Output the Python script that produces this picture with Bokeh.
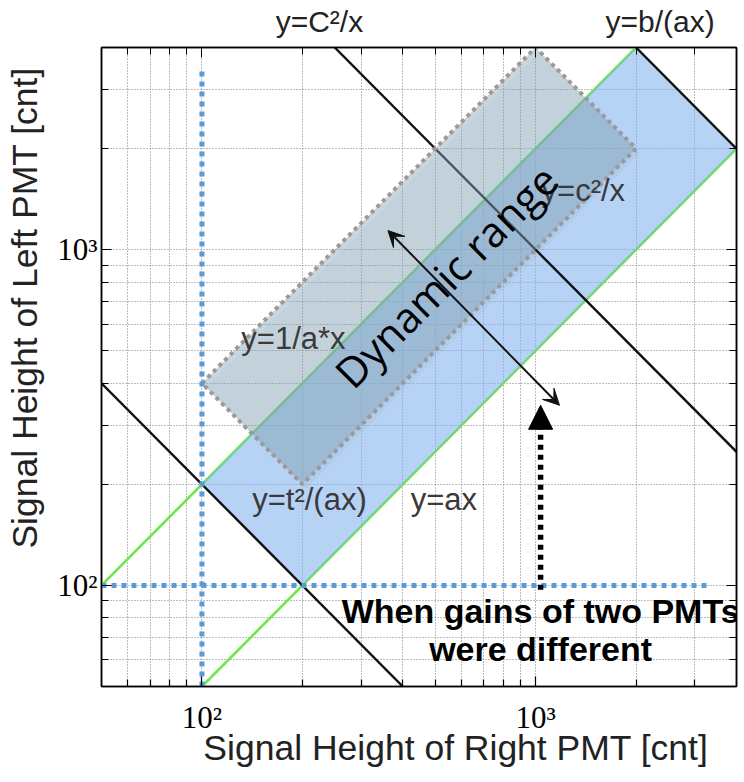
from bokeh.plotting import figure
from bokeh.models import (Range1d, LogAxis, FixedTicker, Label, Arrow,
                          NormalHead, VeeHead)
from bokeh.core.properties import value
from bokeh.embed import file_html
from bokeh.resources import INLINE

# ---- axes ----
x_limits = [50, 4000]
y_limits = [50, 4000]
major_ticks = [100, 1000]
minor_ticks = [60, 70, 80, 90, 200, 300, 400, 500, 600, 700, 800, 900, 2000, 3000]
tick_labels = {100: "10²", 1000: "10³"}
x_title = "Signal Height of Right PMT [cnt]"
y_title = "Signal Height of Left PMT [cnt]"
x_title_at = 577
y_title_at = 671

# ---- gain lines (green) ----
upper_gain_x = [50, 2000]
upper_gain_y = [100, 4000]
lower_gain_x = [100, 4000]
lower_gain_y = [50, 2000]

# ---- hyperbolas (black) ----
t_line_x = [50, 400]
t_line_y = [400, 50]
c_line_x = [250, 4000]
c_line_y = [4000, 250]
b_line_x = [2000, 4000]
b_line_y = [4000, 2000]

# ---- shaded acceptance band ----
band_x = [100, 2000, 4000, 200]
band_y = [200, 4000, 2000, 100]

# ---- dynamic range rectangle ----
dyn_x = [100, 1000, 2000, 200]
dyn_y = [400, 4000, 2000, 200]

# ---- thresholds (blue dotted) ----
thr_v_x = [100, 100]
thr_v_y = [50, 3500]
thr_h_x = [50, 3300]
thr_h_y = [100, 100]

# ---- arrows ----
dyn_arrow_x = [1179, 361]
dyn_arrow_y = [344, 1140]
gain_arrow_x = [1035, 1035]
gain_arrow_y = [97, 344]

# ---- annotations ----
note_x = [188, 210, 531, 1390]
note_y = [542, 180, 180, 1500]
note_text = ["y=1/a*x", "y=t²/(ax)", "y=ax", "y=c²/x"]
top_x = [225, 2362]
top_text = ["y=C²/x", "y=b/(ax)"]
dyn_label = ["Dynamic range", 538, 836]
gain_note = ["When gains of two PMTs", "were different"]
gain_note_x = [1035, 1035]
gain_note_y = [84, 64.7]

SANS = "Liberation Sans"

xt = FixedTicker(ticks=major_ticks, minor_ticks=minor_ticks)
yt = FixedTicker(ticks=major_ticks, minor_ticks=minor_ticks)

p = figure(width=744, height=782, x_axis_type="log", y_axis_type="log",
           x_range=Range1d(*x_limits), y_range=Range1d(*y_limits),
           output_backend="svg", toolbar_location=None,
           min_border_left=101, min_border_right=8,
           min_border_top=47, min_border_bottom=96)
p.background_fill_color = "white"
p.border_fill_color = "white"
p.outline_line_color = "black"
p.outline_line_width = 1.5

for ax, t in ((p.xaxis[0], xt), (p.yaxis[0], yt)):
    ax.ticker = t
    ax.major_label_overrides = tick_labels
    ax.major_label_text_font = "Liberation Serif"
    ax.major_label_text_font_size = "31px"
    ax.major_label_text_color = "black"
    ax.major_tick_in = 10
    ax.major_tick_out = 0
    ax.minor_tick_in = 7
    ax.minor_tick_out = 0
    ax.axis_line_color = "black"
    ax.axis_line_width = 1.5
    ax.major_tick_line_width = 1.2
    ax.minor_tick_line_width = 1.2
p.xaxis.major_label_standoff = 13
p.yaxis.major_label_standoff = 4

for g, t in ((p.xgrid[0], xt), (p.ygrid[0], yt)):
    g.ticker = t
    g.grid_line_color = "#7a7a7a"
    g.grid_line_dash = "1 2"
    g.grid_line_width = 1
    g.minor_grid_line_color = "#7a7a7a"
    g.minor_grid_line_dash = "1 2"
    g.minor_grid_line_width = 1

blank = {100: " ", 1000: " "}
top_axis = LogAxis(ticker=xt, major_label_overrides=blank,
                   major_label_text_font_size="2px", major_label_text_alpha=0,
                   major_label_standoff=0, major_tick_in=10, major_tick_out=0,
                   minor_tick_in=7, minor_tick_out=0, axis_line_color="black",
                   axis_line_width=1.5)
right_axis = LogAxis(ticker=yt, major_label_overrides=blank,
                     major_label_text_font_size="2px", major_label_text_alpha=0,
                     major_label_standoff=0, major_tick_in=10, major_tick_out=0,
                     minor_tick_in=7, minor_tick_out=0, axis_line_color="black",
                     axis_line_width=1.5)
p.add_layout(top_axis, "above")
p.add_layout(right_axis, "right")


def text_axis(ticks, labels, font, size, color, standoff, orientation="horizontal"):
    return LogAxis(ticker=FixedTicker(ticks=ticks, minor_ticks=[]),
                   major_label_overrides=dict(zip(ticks, labels)),
                   major_label_text_font=font,
                   major_label_text_font_size=size,
                   major_label_text_color=color,
                   major_label_standoff=standoff,
                   major_label_orientation=orientation,
                   axis_line_color=None, major_tick_line_color=None,
                   minor_tick_line_color=None)


# curve names above the frame
p.add_layout(text_axis(top_x, top_text, SANS, "30px", "#222222", 4), "above")
# axis titles
p.add_layout(text_axis([x_title_at], [x_title], SANS, "35.5px", "#222222", -16), "below")
p.add_layout(text_axis([y_title_at], [y_title], SANS, "35.5px", "#222222", 3,
                       "vertical"), "left")

# green lines
p.line(upper_gain_x, upper_gain_y, line_color="#6ee650", line_width=2.6)
p.line(lower_gain_x, lower_gain_y, line_color="#6ee650", line_width=2.6)

# blue band
p.patch(band_x, band_y, fill_color="#82b4f0", fill_alpha=0.58, line_color=None)

# black hyperbolas
for xs, ys in ((t_line_x, t_line_y), (c_line_x, c_line_y), (b_line_x, b_line_y)):
    p.line(xs, ys, line_color="#111111", line_width=2.4)

# dynamic range rectangle (shadow + body)
p.patch([v * 1.025 for v in dyn_x], [v * 0.97 for v in dyn_y],
        fill_color="#666666", fill_alpha=0.06, line_color=None)
p.patch(dyn_x, dyn_y, fill_color="#86a3b8", fill_alpha=0.45,
        line_color="#9a9a9a", line_width=4, line_dash="4 4")

# curve names inside the frame
p.text(note_x, note_y, text=note_text, text_font=value(SANS),
       text_font_size="31px", text_color="#3a3a3a",
       text_align="center", text_baseline="middle")

# blue dotted thresholds
p.line(thr_v_x, thr_v_y, line_color="#5a9ad8", line_width=5, line_dash="5 5")
p.line(thr_h_x, thr_h_y, line_color="#5a9ad8", line_width=5, line_dash="5 5")

# arrows
p.add_layout(Arrow(start=VeeHead(size=16, fill_color="#111111", line_color="#111111"),
                   end=VeeHead(size=16, fill_color="#111111", line_color="#111111"),
                   x_start=dyn_arrow_x[0], y_start=dyn_arrow_y[0],
                   x_end=dyn_arrow_x[1], y_end=dyn_arrow_y[1],
                   line_color="#111111", line_width=2))
p.add_layout(Arrow(end=NormalHead(size=24, fill_color="black", line_color="black"),
                   x_start=gain_arrow_x[0], y_start=gain_arrow_y[0],
                   x_end=gain_arrow_x[1], y_end=gain_arrow_y[1],
                   line_color="black", line_width=5.5, line_dash="5 5"))

# dynamic range text
p.add_layout(Label(x=dyn_label[1], y=dyn_label[2], text=dyn_label[0],
                   angle=45, angle_units="deg", text_font="Open Sans",
                   text_font_size="42px", text_color="black",
                   text_align="center", text_baseline="middle"))

# gain note
for t, gx, gy in zip(gain_note, gain_note_x, gain_note_y):
    p.add_layout(Label(x=gx, y=gy, text=t, text_font=SANS,
                       text_font_style="bold", text_font_size="34px",
                       text_color="black", text_align="center",
                       text_baseline="middle"))

open("out.html", "w").write(file_html(p, INLINE))
